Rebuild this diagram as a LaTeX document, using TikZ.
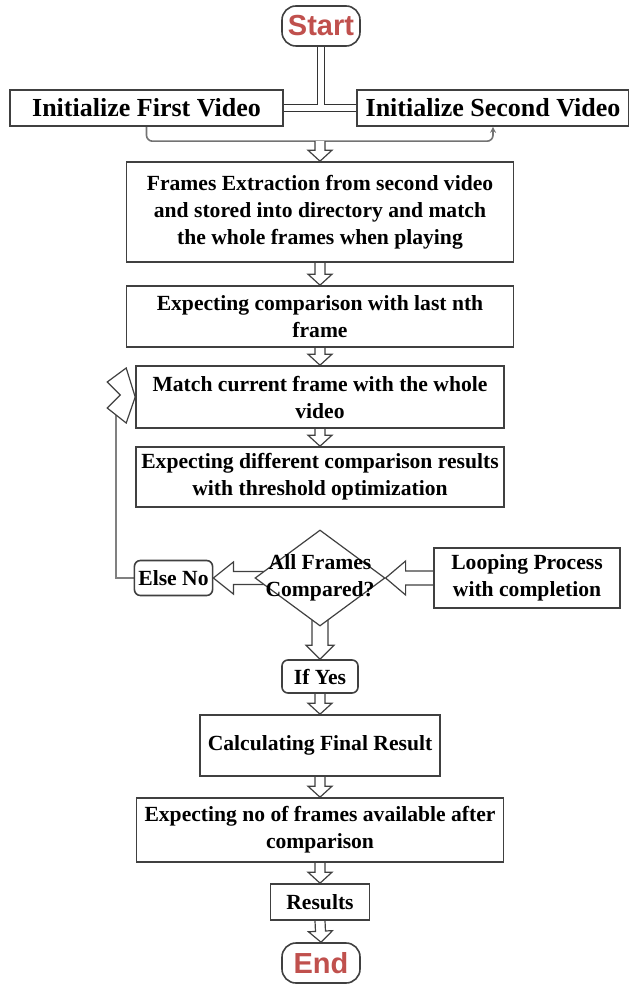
\documentclass[tikz,border=0pt]{standalone}
\usepackage{fontspec}
\setmainfont{Liberation Serif}
\newfontfamily\termfont{Liberation Sans}
\usetikzlibrary{shapes.geometric,calc,backgrounds,arrows.meta}
\definecolor{termred}{RGB}{192,80,77}

% 空心块箭头: 尾, 尖, 杆半宽, 头半宽, 头长
\newcommand{\blockarrow}[5]{%
  \path (#1) coordinate (tail) (#2) coordinate (tip);
  \path ($(tip)!#5!(tail)$) coordinate (neck);
  \draw[arrowbody] ($(tail)!#3!90:(tip)$) -- ($(neck)!#3!90:(tip)$) -- ($(neck)!#4!90:(tip)$)
    -- (tip) -- ($(neck)!#4!-90:(tip)$) -- ($(neck)!#3!-90:(tip)$) -- ($(tail)!#3!-90:(tip)$);
}

\begin{document}
\begin{tikzpicture}[x=0.5pt, y=-0.5pt]
    \tikzstyle{process}=[rectangle, draw=black!75, line width=0.8pt, fill=white, align=center, inner sep=2pt, font=\bfseries\fontsize{10.8}{13.5}\selectfont]
    \tikzstyle{choice}=[process, rounded corners=3pt]
    \tikzstyle{terminal}=[process, rounded corners=7pt, minimum width=39pt, minimum height=20pt, text=termred, font=\termfont\bfseries\fontsize{14.5}{16}\selectfont]
    \tikzstyle{decision}=[diamond, draw=black!75, line width=0.6pt, fill=white, minimum width=65pt, minimum height=48pt, inner sep=0pt]
    \tikzstyle{arrowbody}=[draw=black!75, line width=0.6pt, fill=white]
    \tikzstyle{loopline}=[draw=black!50, line width=0.9pt]
    \tikzstyle{bracket}=[draw=black!55, line width=0.8pt, rounded corners=3pt]

    \useasboundingbox (0,0) rectangle (628,984);

    % 流程框
    \node[terminal] (start) at (321,26) {Start};
    \node[process, minimum width=136.5pt, minimum height=18pt, font=\bfseries\fontsize{13}{15}\selectfont] (first) at (146.5,108) {Initialize First Video};
    \node[process, minimum width=136pt, minimum height=18pt, font=\bfseries\fontsize{13}{15}\selectfont] (second) at (493,108) {Initialize Second Video};
    \node[process, minimum width=193.5pt, minimum height=50pt] (extract) at (320,212)
        {Frames Extraction from second video\\and stored into directory and match\\the whole frames when playing};
    \node[process, minimum width=193.5pt, minimum height=30.5pt] (lastnth) at (320,316.5)
        {Expecting comparison with last nth\\frame};
    \node[process, minimum width=184pt, minimum height=31pt] (match) at (320,397)
        {Match current frame with the whole\\video};
    \node[process, minimum width=184pt, minimum height=30pt] (thresh) at (320,477)
        {Expecting different comparison results\\with threshold optimization};
    \node[decision, label={[align=center, font=\bfseries\fontsize{10.8}{13.5}\selectfont]center:{All Frames\\Compared?}}] (dec) at (320,578) {};
    \node[choice, minimum width=38.5pt, minimum height=17.5pt] (elseno) at (173.5,578) {Else No};
    \node[process, minimum width=93pt, minimum height=30pt] (looping) at (527,578) {Looping Process\\with completion};
    \node[choice, minimum width=38pt, minimum height=16.5pt] (ifyes) at (320,676.5) {If Yes};
    \node[process, minimum width=120pt, minimum height=30.5pt] (final) at (320,745.5) {Calculating Final Result};
    \node[process, minimum width=183.5pt, minimum height=32pt] (avail) at (320,830)
        {Expecting no of frames available after\\comparison};
    \node[process, minimum width=49.5pt, minimum height=18pt] (results) at (320,902) {Results};
    \node[terminal] (end) at (321,963) {End};

    \coordinate (join) at ($(extract.north)+(0,-20)$);

    \begin{pgfonlayer}{background}
        % 双线 T 形
        \foreach \w/\c in {4.2pt/black!80, 3pt/white}{
            \draw[line width=\w, draw=\c] (start.south) -- (start.south |- first.east) (first.east) -- (second.west);
        }
        \draw[bracket, -{Stealth[length=3pt, width=3pt]}] (first.south) |- (join) -| (second.south);

        % 空心箭头
        \blockarrow{join}{extract.north}{2.5pt}{6pt}{5.5pt}
        \foreach \a/\b in {extract/lastnth, lastnth/match, match/thresh, ifyes/final, final/avail, avail/results, results/end}{
            \blockarrow{\a.south}{\b.north}{2.5pt}{6pt}{5.5pt}
        }
        \blockarrow{$(dec.west)+(14,0)$}{elseno.east}{3.25pt}{8pt}{10pt}
        \blockarrow{looping.west}{dec.east}{3.5pt}{8.5pt}{10pt}
        \blockarrow{$(dec.south)+(0,-14)$}{ifyes.north}{4pt}{7pt}{7pt}

        % 回路
        \draw[loopline] (elseno.west) -| ($(match.west)+(-19,18)$);
        \draw[arrowbody] (match.west) -- ++(-9,-29) -- ++(-19,14) -- ++(13,13) -- ++(-13,13) -- ++(19,15) -- cycle;
    \end{pgfonlayer}
\end{tikzpicture}
\end{document}
